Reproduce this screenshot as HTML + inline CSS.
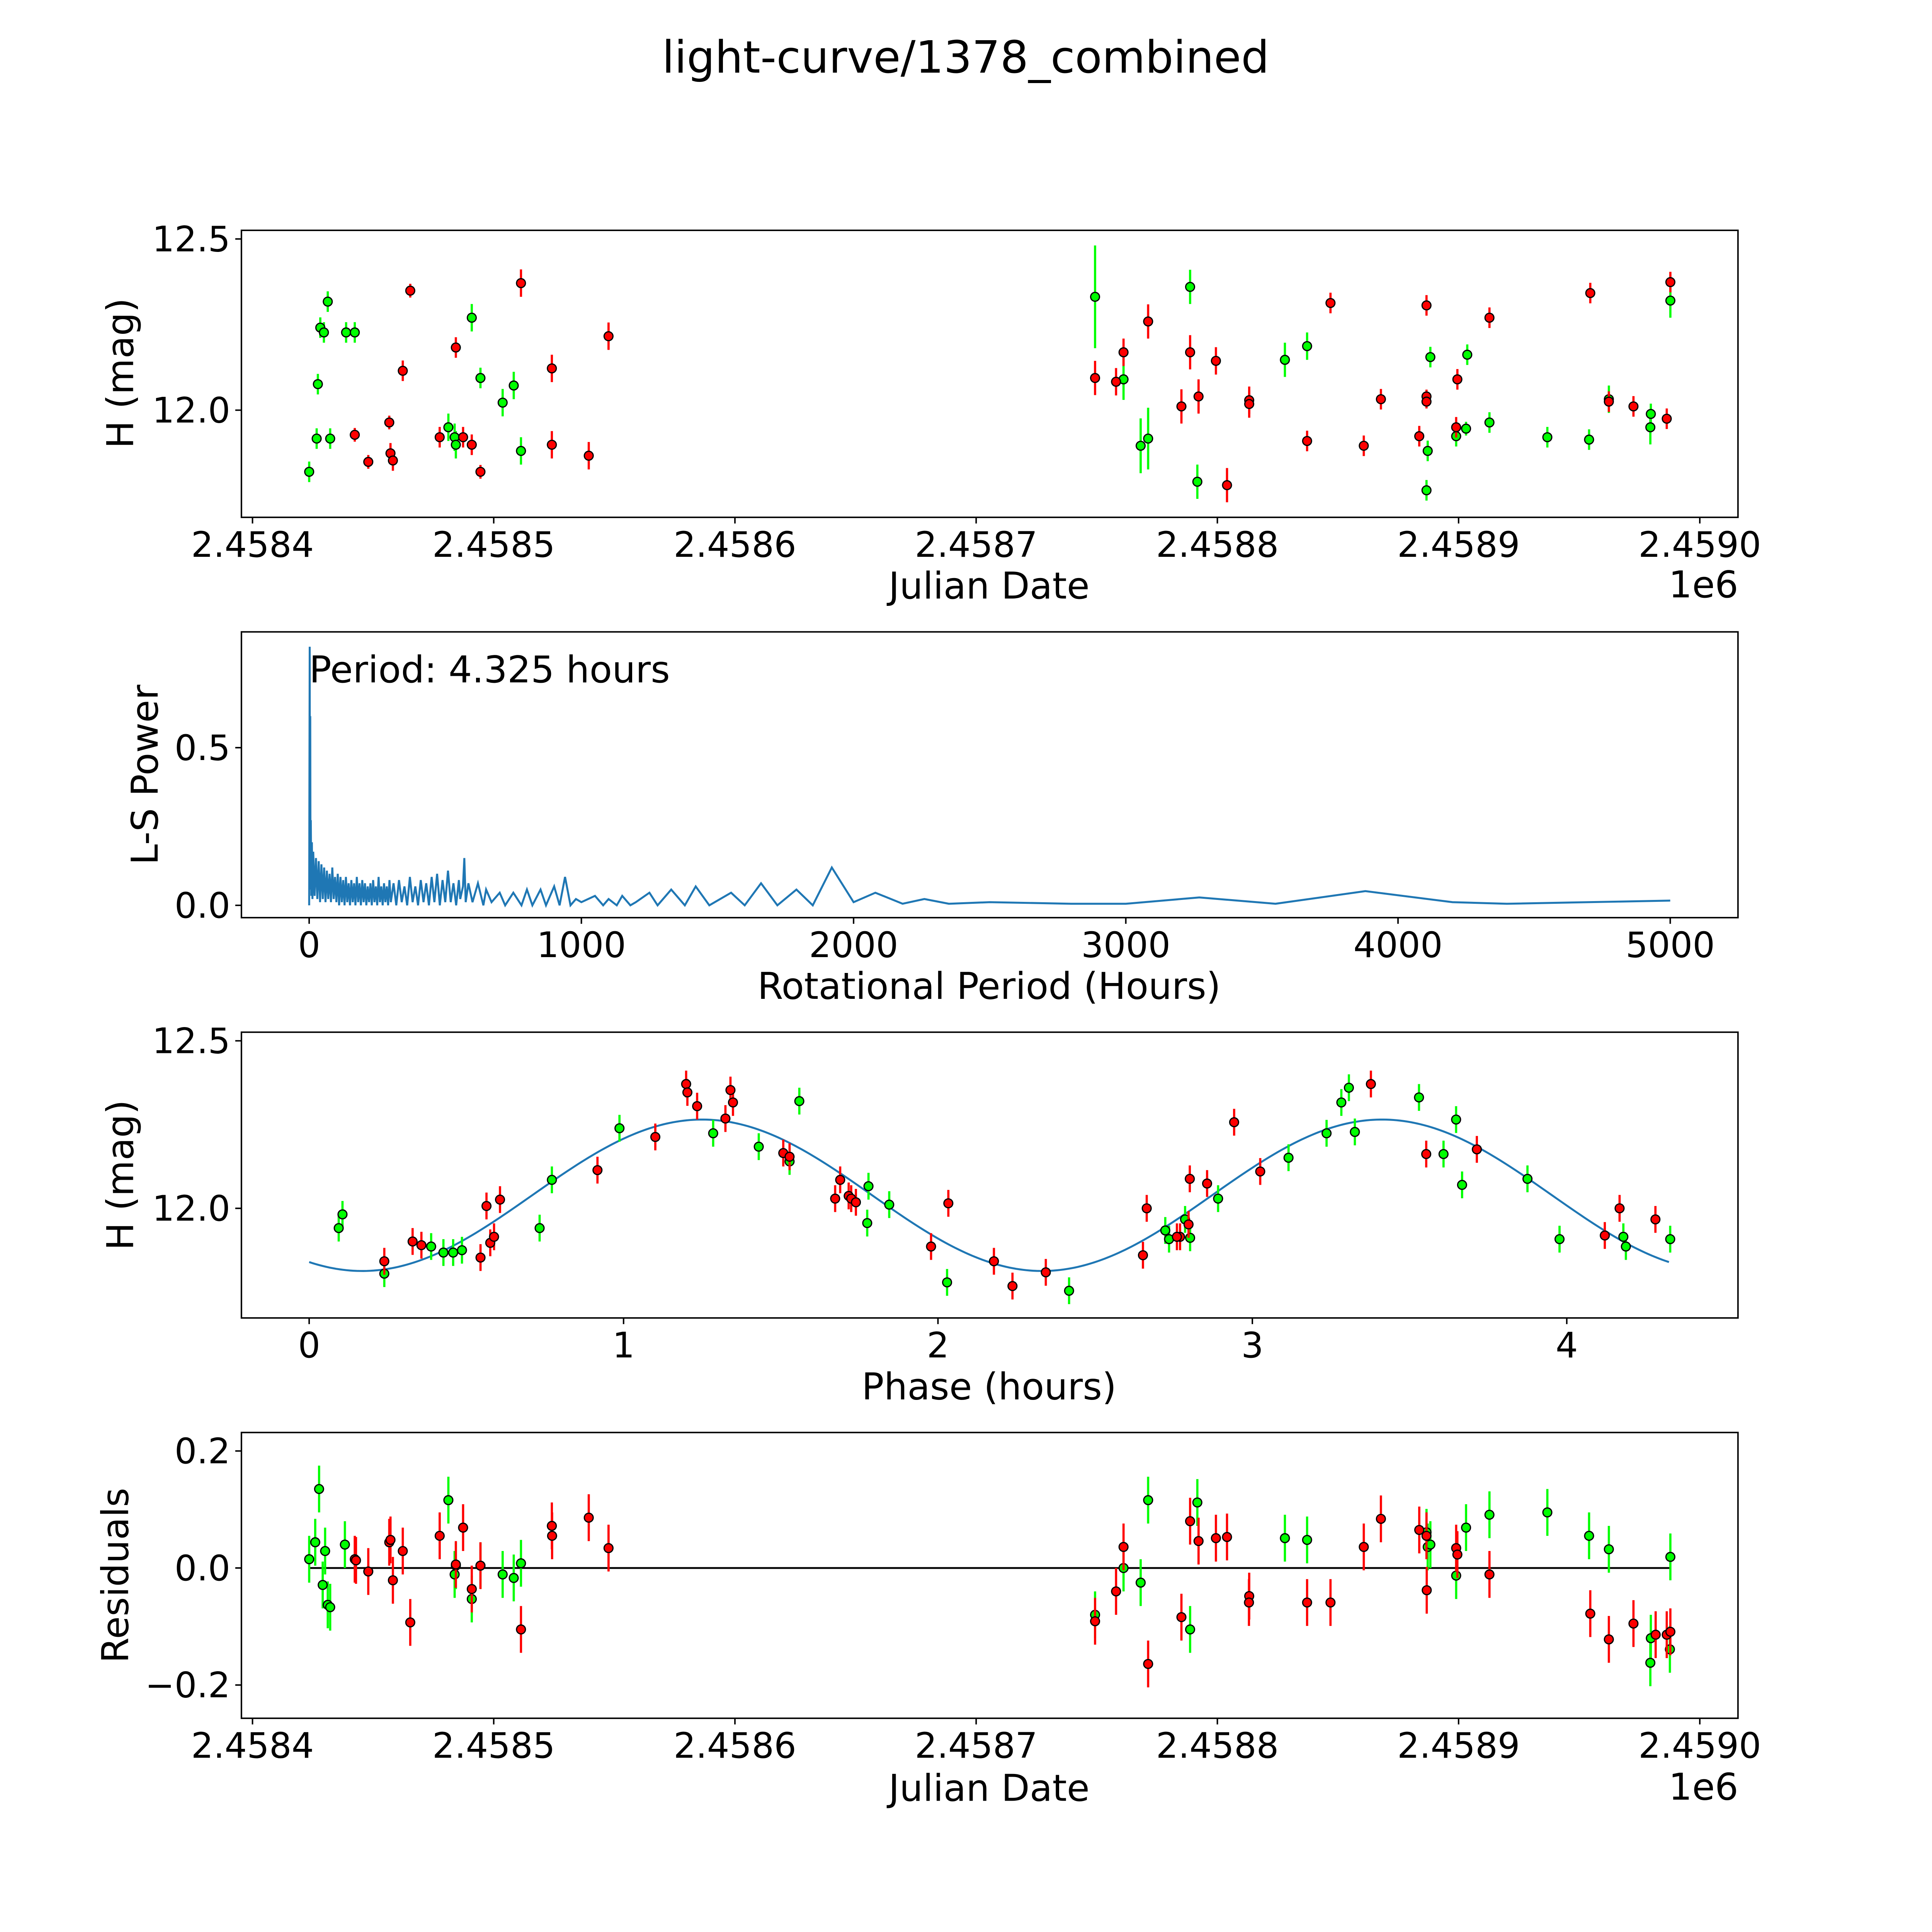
<!DOCTYPE html>
<html><head><meta charset="utf-8"><style>
html,body{margin:0;padding:0;background:#fff;overflow:hidden;width:5400px;height:5400px;}
svg{display:block;font-family:"DejaVu Sans","Liberation Sans",sans-serif;}
</style></head><body>
<svg id="fig" width="5400" height="5400" viewBox="0 0 1694 1694" xmlns="http://www.w3.org/2000/svg" style="width:5400px;height:5400px">
<rect width="1694" height="1694" fill="#fff"/>
<text x="784" y="59" font-size="36" text-anchor="middle">light-curve/1378_combined</text>
<g id="root"></g>
</svg>
<script>
// ---------- DATA ----------
const JD_BASE = 2458400;
const jdTickLabels = ["2.4584","2.4585","2.4586","2.4587","2.4588","2.4589","2.4590"];
const jdTickDays = [0,100,200,300,400,500,600];
// panel 1: light curve (days offset from JD_BASE, mag)
const lcGreenDays = [23.5,26.6,27.1,28.1,29.6,31.2,32.2,38.8,42.4,81.2,83.8,84.3,90.9,94.5,103.7,108.3,111.3,349.3,361.1,368.2,371.3,388.7,391.7,428.0,437.2,486.7,487.2,488.3,499.0,503.1,503.6,512.8,536.8,554.1,562.3,579.7,579.5,587.8];
const lcGreenMag = [11.820,11.917,12.076,12.241,12.227,12.317,11.917,12.227,12.227,11.950,11.921,11.899,12.270,12.094,12.022,12.072,11.881,12.331,12.090,11.896,11.917,12.360,11.791,12.147,12.187,11.766,11.881,12.155,11.924,11.946,12.162,11.964,11.921,11.914,12.032,11.989,11.950,12.320];
const lcGreenErr = [0.03,0.03,0.03,0.03,0.03,0.03,0.03,0.03,0.03,0.04,0.04,0.04,0.04,0.03,0.04,0.04,0.04,0.15,0.06,0.08,0.09,0.05,0.05,0.05,0.04,0.03,0.03,0.03,0.03,0.02,0.03,0.03,0.03,0.03,0.04,0.03,0.05,0.05];
const lcRedDays = [42.4,48.0,56.7,57.2,58.2,62.3,65.4,77.6,84.3,87.3,90.9,94.5,111.3,124.1,124.1,139.4,147.6,349.3,358.0,361.1,371.3,385.1,388.7,392.2,399.4,404.0,413.2,413.2,437.2,446.9,460.7,467.8,483.7,486.7,486.7,486.7,499.5,499.0,512.8,554.6,562.3,572.5,586.3,587.8];
const lcRedMag = [11.928,11.849,11.964,11.874,11.853,12.115,12.349,11.921,12.183,11.921,11.899,11.820,12.371,12.122,11.899,11.867,12.216,12.094,12.083,12.169,12.259,12.011,12.169,12.040,12.144,11.781,12.029,12.018,11.910,12.313,11.896,12.032,11.924,12.306,12.040,12.025,12.090,11.950,12.270,12.342,12.025,12.011,11.975,12.374];
const lcRedErr = [0.02,0.02,0.02,0.03,0.03,0.03,0.02,0.03,0.03,0.03,0.03,0.02,0.04,0.04,0.04,0.04,0.04,0.05,0.04,0.04,0.05,0.05,0.05,0.05,0.04,0.05,0.04,0.04,0.03,0.03,0.03,0.03,0.03,0.03,0.02,0.02,0.03,0.03,0.03,0.03,0.03,0.03,0.03,0.03];
// panel 2: periodogram
const lsPeriod = [0,2,3,4,5,6,8,10,12,15,20,25,30,35,40,45,50,55,60,65,70,75,80,85,90,95,100,105,110,115,120,125,130,135,140,145,150,155,160,165,170,175,180,185,190,195,200,205,210,215,220,225,230,235,240,245,250,255,260,265,270,275,280,285,290,295,300,310,320,330,340,350,360,370,380,390,400,410,420,430,440,450,460,470,480,490,500,510,520,530,540,550,555,565,570,575,585,600,620,640,650,670,700,720,750,780,800,820,850,870,900,920,940,960,980,1000,1050,1080,1100,1130,1150,1180,1200,1250,1280,1330,1380,1420,1470,1550,1600,1660,1720,1790,1850,1920,2000,2080,2180,2260,2350,2500,2800,3000,3270,3550,3880,4200,4400,5000];
const lsPower = [0,0.82,0.1,0.6,0.05,0.27,0.03,0.2,0.02,0.17,0.03,0.15,0.02,0.14,0.01,0.13,0.02,0.12,0.01,0.11,0.02,0.1,0.01,0.12,0.02,0.09,0.01,0.1,0.0,0.09,0.01,0.08,0.0,0.09,0.01,0.07,0.0,0.08,0.01,0.07,0.0,0.09,0.01,0.07,0.0,0.08,0.01,0.07,0.0,0.06,0.01,0.07,0.0,0.08,0.01,0.06,0.0,0.09,0.01,0.06,0.0,0.07,0.01,0.06,0.0,0.08,0.01,0.07,0.0,0.08,0.01,0.06,0.0,0.09,0.01,0.06,0.0,0.08,0.01,0.07,0.0,0.09,0.01,0.1,0.0,0.08,0.01,0.11,0.01,0.07,0.0,0.08,0.02,0.06,0.15,0.01,0.07,0.01,0.07,0.0,0.05,0.01,0.04,0.0,0.04,0.0,0.05,0.0,0.05,0.0,0.06,0.0,0.09,0.0,0.02,0.01,0.03,0.0,0.02,0.0,0.03,0.0,0.01,0.04,0.0,0.05,0.0,0.06,0.0,0.04,0.0,0.07,0.0,0.05,0.0,0.12,0.01,0.04,0.005,0.02,0.005,0.01,0.005,0.005,0.025,0.005,0.045,0.01,0.005,0.015];
const bestPeriodLabel = "Period: 4.325 hours";
// panel 3: phased curve
const phGreenPhase = [0.094,0.106,0.239,0.388,0.427,0.458,0.486,0.733,0.772,0.987,1.285,1.430,1.559,1.528,1.775,1.779,1.845,2.029,2.417,2.723,2.735,2.786,2.802,2.891,3.115,3.236,3.283,3.307,3.326,3.530,3.608,3.648,3.667,3.875,3.977,4.180,4.188,4.329];
const phGreenMag = [11.941,11.982,11.805,11.886,11.868,11.868,11.875,11.941,12.085,12.239,12.224,12.184,12.320,12.140,11.956,12.066,12.011,11.779,11.754,11.934,11.908,11.967,11.912,12.029,12.151,12.224,12.316,12.360,12.228,12.331,12.162,12.265,12.070,12.088,11.908,11.915,11.886,11.908];
const phRedPhase = [0.239,0.329,0.357,0.545,0.564,0.576,0.588,0.607,0.917,1.101,1.199,1.203,1.234,1.324,1.340,1.348,1.508,1.528,1.673,1.689,1.716,1.724,1.739,1.978,2.033,2.178,2.237,2.343,2.652,2.664,2.770,2.760,2.797,2.801,2.856,2.942,3.025,3.377,3.553,3.714,4.121,4.168,4.282];
const phRedMag = [11.842,11.901,11.890,11.853,12.007,11.897,11.915,12.026,12.114,12.213,12.371,12.346,12.305,12.268,12.353,12.316,12.165,12.154,12.029,12.085,12.037,12.029,12.018,11.886,12.015,11.842,11.768,11.809,11.860,12.000,11.915,11.915,11.952,12.088,12.074,12.257,12.110,12.371,12.162,12.176,11.919,12.000,11.967];
const fitMean = 12.039, fitAmp = 0.226, fitPeak = 1.25, fitCycle = 2.1625, fitEnd = 4.325;
// panel 4: residuals
const resGreenDays = [23.5,26.0,27.6,29.1,30.1,31.2,32.2,38.3,81.2,83.8,84.3,90.9,94.5,103.7,108.3,111.3,349.3,361.1,368.2,371.3,388.7,391.7,428.0,437.2,486.7,487.2,488.3,499.0,503.1,512.8,536.8,554.1,562.3,579.7,579.5,587.8,587.6];
const resGreenVal = [0.015,0.044,0.135,-0.029,0.029,-0.063,-0.067,0.040,0.116,-0.011,0.004,-0.053,0.004,-0.011,-0.017,0.008,-0.080,0,-0.025,0.116,-0.105,0.112,0.051,0.048,0.061,0.036,0.040,-0.013,0.069,0.091,0.095,0.055,0.032,-0.120,-0.162,0.019,-0.139];
const resRedDays = [42.4,42.9,48.0,56.7,57.2,58.2,62.3,65.4,77.6,84.3,87.3,90.9,94.5,111.3,124.1,124.2,139.4,147.6,349.3,358.0,361.1,371.3,385.1,388.7,392.2,399.4,404.0,413.2,413.1,437.2,446.9,460.7,467.8,483.7,486.7,486.8,499.0,499.5,512.8,554.6,562.3,572.5,581.7,586.3,587.8];
const resRedVal = [0.015,0.013,-0.006,0.044,0.048,-0.021,0.029,-0.093,0.055,0.006,0.069,-0.036,0.004,-0.105,0.072,0.055,0.086,0.034,-0.091,-0.040,0.036,-0.164,-0.084,0.080,0.046,0.051,0.053,-0.048,-0.059,-0.059,-0.059,0.036,0.084,0.065,0.055,-0.038,0.034,0.023,-0.011,-0.078,-0.122,-0.095,-0.114,-0.114,-0.109];
const resErr = 0.04;

// ---------- DRAW ----------
const NS = "http://www.w3.org/2000/svg";
const root = document.getElementById('root');
function el(tag, attrs, parent){const e=document.createElementNS(NS,tag);for(const k in attrs)e.setAttribute(k,attrs[k]);(parent||root).appendChild(e);return e;}
function lin(d0,d1,r0,r1){return v=>r0+(v-d0)*(r1-r0)/(d1-d0);}

function frame(name,x0,y0,x1,y1){
  const r=el('rect',{x:x0,y:y0,width:x1-x0,height:y1-y0,fill:'none',stroke:'#000','stroke-width':1.2});
  
  
}
function xTicks(name,vals,labels,sx,y1,ly){
  vals.forEach((v,i)=>{
    el('line',{x1:sx(v),x2:sx(v),y1:y1,y2:y1+5,stroke:'#000','stroke-width':1.2});
    const t=el('text',{x:sx(v),y:ly,'font-size':28.5,'text-anchor':'middle'});
    t.textContent=labels[i];
    
    
  });
}
function yTicks(name,vals,labels,sy,x0){
  vals.forEach((v,i)=>{
    el('line',{x1:x0-5,x2:x0,y1:sy(v),y2:sy(v),stroke:'#000','stroke-width':1.2});
    const t=el('text',{x:x0-9,y:sy(v)+10,'font-size':28.5,'text-anchor':'end'});
    t.textContent=labels[i];
    
    
  });
}
function label(name,txt,x,y,rot){
  const t=el('text',{x:x,y:y,'font-size':30,'text-anchor':'middle'});
  if(rot) t.setAttribute('transform','rotate(-90 '+x+' '+y+')');
  t.textContent=txt;
  
  
}
function points(name,xs,ys,errs,color,sx,sy){
  const g=el('g',{});
  
  
  xs.forEach((x,i)=>{
    const e=Array.isArray(errs)?errs[i]:errs;
    const l=el('line',{x1:sx(x),x2:sx(x),y1:sy(ys[i]-e),y2:sy(ys[i]+e),stroke:color,'stroke-width':1.8},g);
    
    
  });
  xs.forEach((x,i)=>{
    const c=el('circle',{cx:sx(x),cy:sy(ys[i]),r:3.6,fill:color,stroke:'#000','stroke-width':1},g);
    
    
  });
}

// Panel 1
{
  const sx=lin(0,600,205,1380), sy=lin(12.0,12.5,333,194);
  frame('lightcurve',196,187,1411,420);
  points('lightcurve-green-series',lcGreenDays,lcGreenMag,lcGreenErr,'#00ff00',sx,sy);
  points('lightcurve-red-series',lcRedDays,lcRedMag,lcRedErr,'#ff0000',sx,sy);
  xTicks('lightcurve',jdTickDays,jdTickLabels,sx,420,452);
  yTicks('lightcurve',[12.0,12.5],['12.0','12.5'],sy,196);
  label('lightcurve-x-axis-title','Julian Date',803,486);
  label('lightcurve-x-offset','1e6',1383,485);
  label('lightcurve-y-axis-title','H (mag)',108,303,true);
}
// Panel 2
{
  const sx=lin(0,5000,251,1356), sy=lin(0,0.5,735,607);
  frame('periodogram',196,513,1411,745);
  let d='';
  lsPeriod.forEach((p,i)=>{d+=(i?'L':'M')+sx(p).toFixed(2)+' '+sy(lsPower[i]).toFixed(2);});
  const p=el('path',{d:d,fill:'none',stroke:'#1f77b4','stroke-width':1.6});
  
  
  xTicks('periodogram',[0,1000,2000,3000,4000,5000],['0','1000','2000','3000','4000','5000'],sx,745,777);
  yTicks('periodogram',[0,0.5],['0.0','0.5'],sy,196);
  const t=el('text',{x:251,y:554,'font-size':30});
  t.textContent=bestPeriodLabel;
  
  
  label('periodogram-x-axis-title','Rotational Period (Hours)',803,811);
  label('periodogram-y-axis-title','L-S Power',128,629,true);
}
// Panel 3
{
  const sx=lin(0,4,251,1272), sy=lin(12.0,12.5,981,845);
  frame('phased',196,838,1411,1070);
  let d='';
  for(let i=0;i<=400;i++){const ph=fitEnd*i/400;const m=fitMean+fitAmp*Math.cos(2*Math.PI*(ph-fitPeak)/fitCycle);d+=(i?'L':'M')+sx(ph).toFixed(2)+' '+sy(m).toFixed(2);}
  const p=el('path',{d:d,fill:'none',stroke:'#1f77b4','stroke-width':1.6});
  
  
  points('phased-green-series',phGreenPhase,phGreenMag,0.04,'#00ff00',sx,sy);
  points('phased-red-series',phRedPhase,phRedMag,0.04,'#ff0000',sx,sy);
  xTicks('phased',[0,1,2,3,4],['0','1','2','3','4'],sx,1070,1102);
  yTicks('phased',[12.0,12.5],['12.0','12.5'],sy,196);
  label('phased-x-axis-title','Phase (hours)',803,1136);
  label('phased-y-axis-title','H (mag)',108,954,true);
}
// Panel 4
{
  const sx=lin(0,600,205,1380), sy=lin(0,0.2,1273,1178);
  frame('residuals',196,1163,1411,1395);
  const z=el('line',{x1:sx(23.5),x2:sx(587.8),y1:sy(0),y2:sy(0),stroke:'#000','stroke-width':1.5});
  
  
  points('residuals-green-series',resGreenDays,resGreenVal,resErr,'#00ff00',sx,sy);
  points('residuals-red-series',resRedDays,resRedVal,resErr,'#ff0000',sx,sy);
  xTicks('residuals',jdTickDays,jdTickLabels,sx,1395,1427);
  yTicks('residuals',[-0.2,0,0.2],['\u22120.2','0.0','0.2'],sy,196);
  label('residuals-x-axis-title','Julian Date',803,1462);
  label('residuals-x-offset','1e6',1383,1461);
  label('residuals-y-axis-title','Residuals',104,1279,true);
}
</script>
</body></html>
